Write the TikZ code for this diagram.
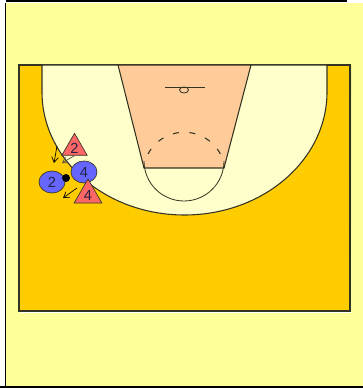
\documentclass[tikz,border=0pt]{standalone}
\usepackage{fontspec}
\setmainfont{Liberation Sans}
\usetikzlibrary{arrows.meta,shapes.geometric,calc,positioning}
\definecolor{pagefill}{HTML}{FFFF99}
\definecolor{courtfill}{HTML}{FFCC00}
\definecolor{arcfill}{HTML}{FFFFCC}
\definecolor{lanefill}{HTML}{FFCC99}
\definecolor{offense}{HTML}{FF6666}
\definecolor{defense}{HTML}{6666FF}
\definecolor{edge}{HTML}{333322}
\definecolor{shade}{HTML}{665500}
\definecolor{ink}{HTML}{222244}
\tikzset{
  % ---- court ------------------------------------------------------
  frame/.style      = {draw=black, line width=1.1pt},
  courtline/.style  = {draw=edge, line width=.8pt},
  thinline/.style   = {draw=edge, line width=.6pt},
  % ---- players ----------------------------------------------------
  att/.style        = {regular polygon, regular polygon sides=3, draw=edge,
                       line width=.5pt, fill=offense, inner sep=0pt,
                       text=ink, font=\fontsize{11}{12}\selectfont},
  def/.style        = {ellipse, draw=edge, line width=.5pt, fill=defense,
                       inner sep=0pt, minimum width=19.5pt, minimum height=16.5pt,
                       text=ink, font=\fontsize{11}{12}\selectfont},
  ball/.style       = {circle, fill=black, inner sep=0pt, minimum size=6pt},
  % ---- movement ---------------------------------------------------
  cut/.style        = {draw=black, line width=.5pt,
                       -{Straight Barb[length=4pt,width=5pt]}},
  pass/.style       = {draw=black!70, line width=.5pt,
                       -{Straight Barb[length=4pt,width=5pt]}},
}
\begin{document}
\begin{tikzpicture}[x=.75pt,y=-.75pt]
  \useasboundingbox (0,0) rectangle (363,388);
  % page
  \fill[pagefill] (6,3) rectangle (363,386);
  \draw[frame] (6,1) -- (347,1);
  \draw[frame] (5.5,3) -- (5.5,386);
  \draw[frame] (0,387) -- (363,387);
  \draw[frame] (30,0) -- (30,2);
  \draw[frame] (225,0) -- (225,2);
  % court
  \fill[shade] (20,66) rectangle (351,312);
  \filldraw[courtline, fill=courtfill] (19,65) rectangle (350,311);
  \filldraw[courtline, fill=arcfill] (42,65) -- (42,92) arc[start angle=180, end angle=0, x radius=142.5, y radius=123] -- (327,65) -- cycle;
  % lane
  \filldraw[courtline, fill=lanefill] (118,65) -- (144,168) -- (224,168) -- (251,65) -- cycle;
  \draw[thinline] (144,168) -- (144,161) arc[start angle=180, end angle=0, radius=40] -- (224,168);
  \draw[courtline, dash pattern=on 4.5pt off 7.9pt] (148,154) arc[start angle=208, end angle=332, radius=41];
  \draw[thinline] (165,87) -- (205,87);
  \draw[thinline] (184,90) ellipse[x radius=4.5, y radius=3];
  % players
  \node[att, minimum size=22pt] (att2) at (74.5,148) {2};
  \node[def] (def4) at (84,172) {4};
  \node[att, minimum size=24pt] (att4) at (88,195) {4};
  \node[def] (def2) at (52,182) {2};
  \node[ball] (ballA) at (66,178) {};
  % movement
  \coordinate (cutS) at (57,146);
  \coordinate (cutE) at (54,163);
  \coordinate (passE) at (62,163);
  \coordinate (slideS) at (77,188);
  \coordinate (slideE) at (63,198);
  \draw[cut] (cutS) -- (cutE);
  \draw[pass] (att2.south) -- (passE);
  \draw[cut] (slideS) -- (slideE);
\end{tikzpicture}
\end{document}
